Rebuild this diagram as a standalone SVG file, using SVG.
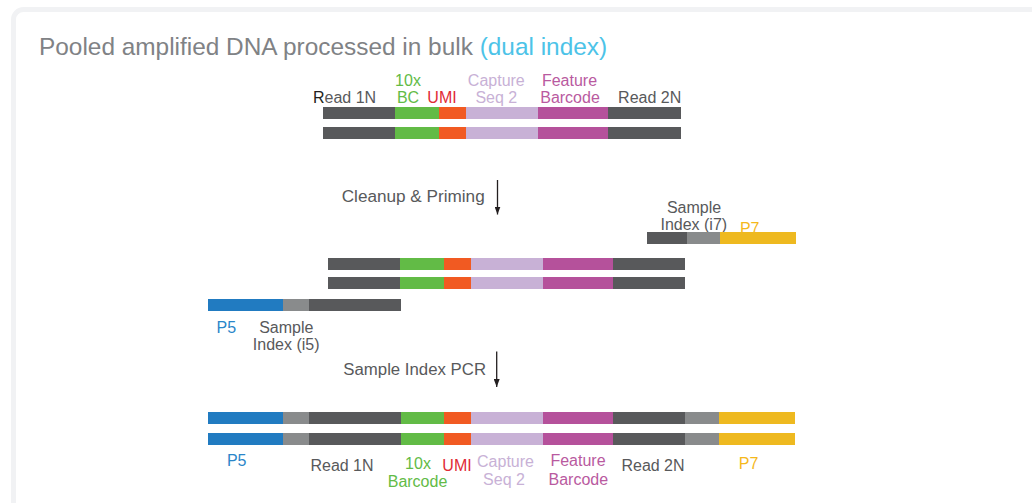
<svg xmlns="http://www.w3.org/2000/svg" width="1032" height="503" viewBox="0 0 1032 503">
<style>
.dk{fill:#58595b}.gn{fill:#62bb46}.or{fill:#f15a22}.lv{fill:#c8b1d6}.mg{fill:#b5519b}.lg{fill:#898b8c}.bl{fill:#217bc1}.yl{fill:#eeb920}
text{font-family:"Liberation Sans",Arial,sans-serif;font-size:16px}
.c{text-anchor:middle}
.tg{fill:#58595b}.tgn{fill:#62bb46}.tred{fill:#e12b36}.tlv{fill:#c8b1d6}.tmg{fill:#b95aa0}.tbl{fill:#2a86c9}.tyl{fill:#f5b81c}
.arr{stroke:#231f20;stroke-width:1.3;fill:none}
</style>
<defs>
<marker id="ah" markerUnits="userSpaceOnUse" markerWidth="8" markerHeight="6" refX="8" refY="3" orient="auto">
<path d="M0,0 L8,3 L0,6 z" fill="#231f20"/>
</marker>
</defs>
<rect x="0" y="0" width="1032" height="503" fill="#ffffff"/>
<rect x="13.5" y="9.5" width="1100" height="600" rx="10" fill="#ffffff" stroke="#f1f2f4" stroke-width="5"/>

<g id="title">
<text x="39" y="55" style="font-size:24.4px" fill="#808285">Pooled amplified DNA processed in bulk <tspan fill="#4cc3e8">(dual index)</tspan></text>
</g>

<g id="stage1">
<text class="tg" x="313" y="102.7"><tspan fill="#231f20">R</tspan>ead 1N</text>
<text class="c tgn" x="408" y="86">10x</text>
<text class="c tgn" x="408" y="102.7">BC</text>
<text class="c tred" x="442" y="102.7">UMI</text>
<text class="c tlv" x="496.3" y="86">Capture</text>
<text class="c tlv" x="496.3" y="102.7">Seq 2</text>
<text class="c tmg" x="569.5" y="86">Feature</text>
<text class="c tmg" x="570" y="102.7">Barcode</text>
<text class="c tg" x="649.7" y="102.7">Read 2N</text>
<rect class="dk" x="323" y="107" width="72" height="12"/>
<rect class="gn" x="395" y="107" width="44" height="12"/>
<rect class="or" x="439" y="107" width="27" height="12"/>
<rect class="lv" x="466" y="107" width="72" height="12"/>
<rect class="mg" x="538" y="107" width="70" height="12"/>
<rect class="dk" x="608" y="107" width="73" height="12"/>
<rect class="dk" x="323" y="127" width="72" height="12"/>
<rect class="gn" x="395" y="127" width="44" height="12"/>
<rect class="or" x="439" y="127" width="27" height="12"/>
<rect class="lv" x="466" y="127" width="72" height="12"/>
<rect class="mg" x="538" y="127" width="70" height="12"/>
<rect class="dk" x="608" y="127" width="73" height="12"/>
</g>

<g id="p7-primer">
<text class="c tg" x="694" y="212.7">Sample</text>
<text class="c tg" x="693.8" y="230">Index (i7)</text>
<text class="c tyl" x="749.7" y="234">P7</text>
<rect class="dk" x="647" y="232" width="40" height="12"/>
<rect class="lg" x="687" y="232" width="33" height="12"/>
<rect class="yl" x="720" y="232" width="76" height="12"/>
</g>

<g id="stage2">
<rect class="dk" x="328" y="258" width="72" height="12"/>
<rect class="gn" x="400" y="258" width="44" height="12"/>
<rect class="or" x="444" y="258" width="27" height="12"/>
<rect class="lv" x="471" y="258" width="72" height="12"/>
<rect class="mg" x="543" y="258" width="70" height="12"/>
<rect class="dk" x="613" y="258" width="72" height="12"/>
<rect class="dk" x="328" y="277" width="72" height="12"/>
<rect class="gn" x="400" y="277" width="44" height="12"/>
<rect class="or" x="444" y="277" width="27" height="12"/>
<rect class="lv" x="471" y="277" width="72" height="12"/>
<rect class="mg" x="543" y="277" width="70" height="12"/>
<rect class="dk" x="613" y="277" width="72" height="12"/>
</g>

<g id="p5-primer">
<rect class="bl" x="208" y="299" width="75" height="12"/>
<rect class="lg" x="283" y="299" width="26" height="12"/>
<rect class="dk" x="309" y="299" width="92" height="12"/>
<text class="c tbl" x="226.3" y="332.7">P5</text>
<text class="c tg" x="286.3" y="332.7">Sample</text>
<text class="c tg" x="286.2" y="350">Index (i5)</text>
</g>

<g id="stage3">
<rect class="bl" x="208" y="412" width="75" height="12"/>
<rect class="lg" x="283" y="412" width="26" height="12"/>
<rect class="dk" x="309" y="412" width="92" height="12"/>
<rect class="gn" x="401" y="412" width="43" height="12"/>
<rect class="or" x="444" y="412" width="27" height="12"/>
<rect class="lv" x="471" y="412" width="72" height="12"/>
<rect class="mg" x="543" y="412" width="70" height="12"/>
<rect class="dk" x="613" y="412" width="72" height="12"/>
<rect class="lg" x="685" y="412" width="34" height="12"/>
<rect class="yl" x="719" y="412" width="76" height="12"/>
<rect class="bl" x="208" y="433" width="75" height="12"/>
<rect class="lg" x="283" y="433" width="26" height="12"/>
<rect class="dk" x="309" y="433" width="92" height="12"/>
<rect class="gn" x="401" y="433" width="43" height="12"/>
<rect class="or" x="444" y="433" width="27" height="12"/>
<rect class="lv" x="471" y="433" width="72" height="12"/>
<rect class="mg" x="543" y="433" width="70" height="12"/>
<rect class="dk" x="613" y="433" width="72" height="12"/>
<rect class="lg" x="685" y="433" width="34" height="12"/>
<rect class="yl" x="719" y="433" width="76" height="12"/>
<text class="c tbl" x="236.7" y="466">P5</text>
<text class="c tg" x="342" y="470.7">Read 1N</text>
<text class="c tgn" x="418" y="469">10x</text>
<text class="c tgn" x="417.5" y="487">Barcode</text>
<text class="c tred" x="457" y="470.5">UMI</text>
<text class="c tlv" x="505.5" y="466.7">Capture</text>
<text class="c tlv" x="504" y="485">Seq 2</text>
<text class="c tmg" x="578" y="466">Feature</text>
<text class="c tmg" x="578.3" y="485">Barcode</text>
<text class="c tg" x="653" y="470.7">Read 2N</text>
<text class="c tyl" x="748.5" y="469">P7</text>
</g>

<g id="connectors">
<text class="tg" x="341.7" y="201.7" textLength="143" lengthAdjust="spacingAndGlyphs">Cleanup &amp; Priming</text>
<line class="arr" x1="497.5" y1="180" x2="497.5" y2="214.5" marker-end="url(#ah)"/>
<text class="tg" x="343.3" y="375" textLength="142.7" lengthAdjust="spacingAndGlyphs">Sample Index PCR</text>
<line class="arr" x1="496.7" y1="351.5" x2="496.7" y2="387" marker-end="url(#ah)"/>
</g>
</svg>
